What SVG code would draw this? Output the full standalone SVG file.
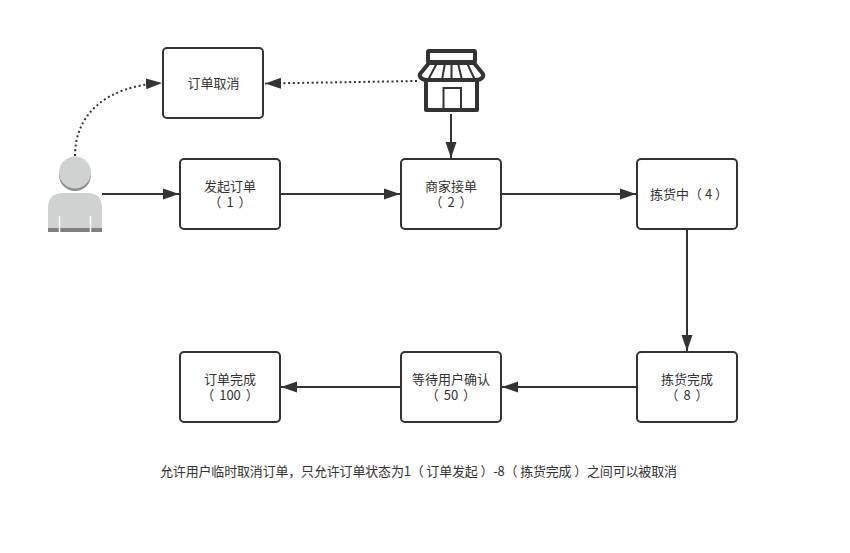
<svg xmlns="http://www.w3.org/2000/svg" width="850" height="553" viewBox="0 0 850 553">
<style>
text{font-family:"Noto Sans CJK SC","Liberation Sans",sans-serif;font-size:13px;fill:#333;text-anchor:middle;word-spacing:2px}
.b{fill:#fff;stroke:#333;stroke-width:2}
.c{fill:none;stroke:#333;stroke-width:2;marker-end:url(#a)}
.d{stroke-dasharray:2 2.700}
.s{fill:none;stroke:#333;stroke-width:4;stroke-linejoin:round}
</style>
<defs><marker id="a" markerUnits="userSpaceOnUse" markerWidth="17" markerHeight="12" refX="16" refY="6" orient="auto"><path d="M0 0.500L16 6L0 11.500Z" fill="#333"/></marker></defs>
<rect width="850" height="553" fill="#fff"/>
<g id="connectors">
<path class="c d" d="M75 156C75 115 105 86 162 83"/>
<path class="c d" d="M417 81L265 83.500"/>
<path class="c" d="M102 194H179"/>
<path class="c" d="M281 194H400"/>
<path class="c" d="M451 114V158"/>
<path class="c" d="M502 194H636"/>
<path class="c" d="M687 230V351"/>
<path class="c" d="M636 387H502"/>
<path class="c" d="M400 387H281"/>
</g>
<g id="cancel"><rect class="b" x="163" y="48" width="100" height="70" rx="4"/><text x="213.500" y="88">订单取消</text></g>
<g id="start"><rect class="b" x="180" y="159" width="100" height="70" rx="4"/><text x="230" y="191">发起订单<tspan x="230" dy="16">（ 1 ）</tspan></text></g>
<g id="accept"><rect class="b" x="401" y="159" width="100" height="70" rx="4"/><text x="451" y="191">商家接单<tspan x="451" dy="16">（ 2 ）</tspan></text></g>
<g id="picking"><rect class="b" x="637" y="159" width="100" height="70" rx="4"/><text x="689" y="199" style="word-spacing:0">拣货中（ 4 ）</text></g>
<g id="picked"><rect class="b" x="637" y="352" width="100" height="70" rx="4"/><text x="687" y="384">拣货完成<tspan x="687" dy="16">（ 8 ）</tspan></text></g>
<g id="confirm"><rect class="b" x="401" y="352" width="100" height="70" rx="4"/><text x="451" y="384">等待用户确认<tspan x="451" dy="16">（ 50 ）</tspan></text></g>
<g id="done"><rect class="b" x="180" y="352" width="100" height="70" rx="4"/><text x="230" y="384">订单完成<tspan x="230" dy="16">（ 100 ）</tspan></text></g>
<g id="user">
<circle cx="75" cy="175" r="16" fill="#8c8c8c"/>
<circle cx="75" cy="172.500" r="16" fill="#d0d2d2"/>
<path d="M48 232V208Q48 193 63 193H87Q102 193 102 208V232Z" fill="#d0d2d2"/>
<rect x="48" y="228" width="54" height="4" fill="#808080"/>
<path d="M59.500 216V232M90.500 216V232" stroke="#fff" stroke-width="1.500"/>
</g>
<g id="shop">
<rect class="s" x="428" y="51" width="47" height="11" rx="1"/>
<path class="s" d="M429 63H474L483 74Q484 76 482 78Q480 80 476 80H427Q423 80 421 78Q419 76 420 74Z"/>
<path d="M437 63L428 80M445 63L442 80M451.500 63V80M458 63L462 80M467 63L475 80" fill="none" stroke="#333" stroke-width="2"/>
<path class="s" d="M426 81V110H477V81"/>
<rect x="443.500" y="88" width="17.500" height="22" fill="none" stroke="#333" stroke-width="2"/>
</g>
<text x="418.500" y="476" textLength="517" style="word-spacing:0">允许用户临时取消订单，只允许订单状态为1（ 订单发起 ）-8（ 拣货完成 ）之间可以被取消</text>
</svg>
